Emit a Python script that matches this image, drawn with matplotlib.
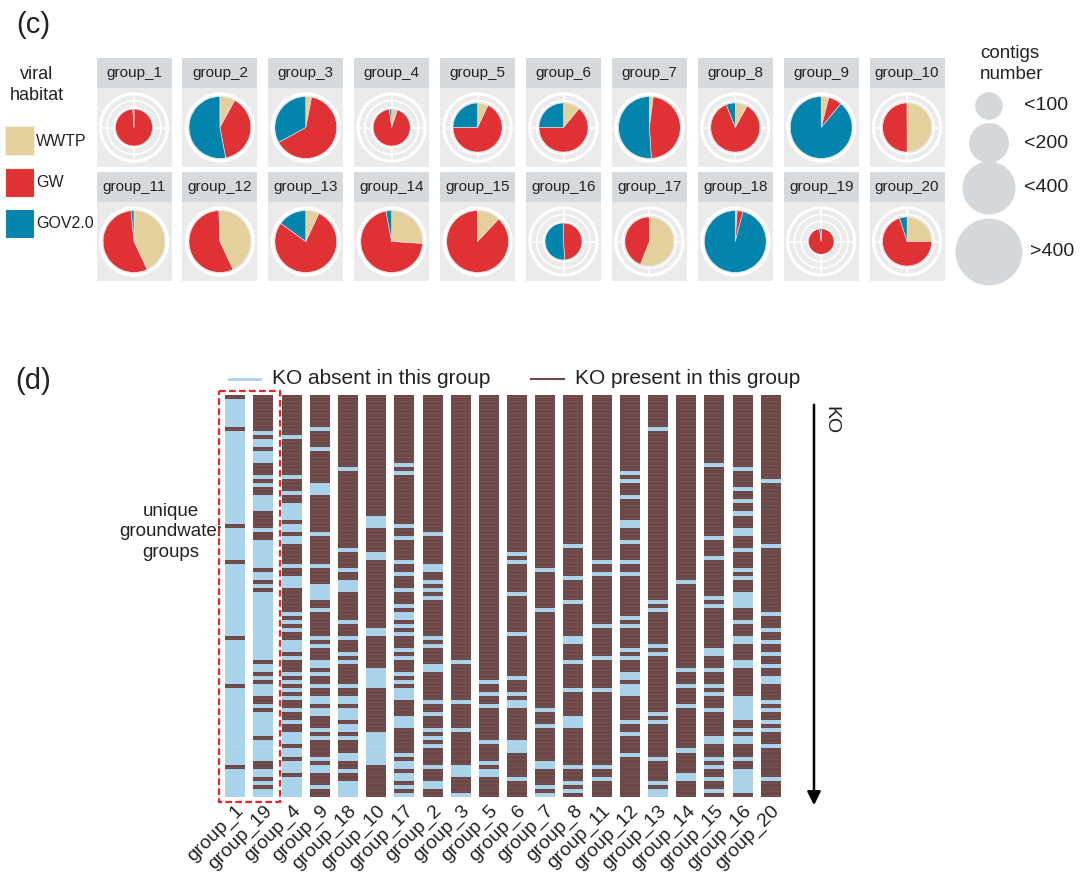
import matplotlib.pyplot as plt
import numpy as np
from matplotlib.patches import Circle, Rectangle
from matplotlib.colors import ListedColormap

plt.rcParams['font.family'] = ['Liberation Sans', 'DejaVu Sans']

W, H = 1080, 884

# ---- panel (c) data: habitat share per group (clockwise from top) ----
habitats = ['WWTP', 'GW', 'GOV2.0']
habitat_colors = ['#e3d09c', '#e03234', '#0384ad']
groups = ['group_%d' % i for i in range(1, 21)]
wwtp = [0.00, 0.08, 0.03, 0.05, 0.07, 0.11, 0.02, 0.08, 0.04, 0.50,
        0.43, 0.43, 0.07, 0.26, 0.12, 0.00, 0.56, 0.01, 0.00, 0.25]
gw = [0.99, 0.39, 0.64, 0.93, 0.68, 0.64, 0.47, 0.86, 0.07, 0.50,
      0.555, 0.565, 0.78, 0.71, 0.88, 0.49, 0.44, 0.03, 0.98, 0.70]
gov = [0.01, 0.53, 0.33, 0.02, 0.25, 0.25, 0.51, 0.06, 0.89, 0.00,
       0.015, 0.005, 0.15, 0.03, 0.00, 0.51, 0.00, 0.96, 0.02, 0.05]
contig_class = ['<200', '>400', '>400', '<200', '<400', '<400', '>400', '<400', '>400', '<400',
                '>400', '>400', '>400', '>400', '>400', '<200', '<400', '>400', '<100', '<400']
size_labels = ['<100', '<200', '<400', '>400']

# ---- panel (d) data: KO absent rows (start, stop) per group, 200 KOs ----
n_ko = 200
ko_order = ['group_1', 'group_19', 'group_4', 'group_9', 'group_18', 'group_10', 'group_17',
            'group_2', 'group_3', 'group_5', 'group_6', 'group_7', 'group_8', 'group_11',
            'group_12', 'group_13', 'group_14', 'group_15', 'group_16', 'group_20']
absent_rows = {
    'group_1': [(2, 16), (18, 64), (66, 82), (84, 120), (122, 144), (146, 184), (186, 200)],
    'group_19': [(18, 20), (22, 26), (28, 34), (40, 42), (44, 46), (50, 58), (66, 68), (72, 86),
                 (88, 92), (94, 96), (98, 132), (134, 138), (140, 142), (144, 150), (154, 156),
                 (158, 170), (172, 182), (186, 190), (192, 194), (196, 200)],
    'group_4': [(20, 22), (40, 42), (48, 50), (54, 62), (64, 68), (70, 74), (84, 86), (90, 96),
                (108, 110), (112, 114), (116, 118), (122, 128), (130, 132), (138, 140), (142, 144),
                (146, 148), (150, 152), (156, 158), (162, 164), (168, 174), (176, 180), (182, 188),
                (190, 200)],
    'group_9': [(16, 18), (26, 28), (44, 50), (68, 70), (84, 86), (94, 102), (106, 108), (120, 122),
                (124, 126), (132, 136), (138, 140), (144, 146), (150, 154), (156, 160), (166, 168),
                (170, 172), (180, 182), (184, 188), (194, 196)],
    'group_18': [(36, 38), (76, 78), (86, 88), (92, 98), (112, 114), (120, 122), (128, 130),
                 (132, 134), (144, 146), (150, 154), (156, 162), (164, 168), (170, 172), (178, 182),
                 (186, 188), (192, 200)],
    'group_10': [(60, 66), (78, 82), (116, 120), (136, 146), (168, 184)],
    'group_17': [(34, 36), (38, 40), (64, 66), (70, 72), (82, 84), (88, 90), (96, 98), (104, 106),
                 (108, 112), (114, 116), (118, 120), (126, 128), (130, 132), (138, 140), (142, 144),
                 (146, 152), (160, 166), (178, 180), (182, 186), (188, 192), (194, 196), (198, 200)],
    'group_2': [(68, 70), (84, 88), (92, 94), (96, 98), (100, 102), (120, 122), (124, 126),
                (134, 138), (152, 154), (158, 160), (166, 168), (170, 172), (174, 176), (184, 186),
                (192, 196)],
    'group_3': [(132, 134), (152, 154), (166, 168), (184, 190), (198, 200)],
    'group_5': [(142, 144), (148, 150), (154, 156), (172, 174), (182, 184), (186, 190)],
    'group_6': [(78, 80), (82, 84), (98, 100), (118, 120), (140, 142), (148, 150), (152, 156),
                (172, 178), (190, 192)],
    'group_7': [(86, 88), (106, 108), (156, 158), (164, 166), (182, 186), (194, 196), (198, 200)],
    'group_8': [(74, 76), (90, 92), (102, 104), (120, 124), (132, 134), (146, 148), (160, 166),
                (184, 186), (192, 194), (196, 198)],
    'group_11': [(82, 84), (88, 90), (114, 116), (130, 132), (146, 148), (184, 186), (190, 192)],
    'group_12': [(38, 40), (42, 44), (50, 52), (62, 66), (72, 74), (82, 84), (88, 90), (110, 112),
                 (114, 116), (126, 128), (130, 132), (138, 142), (144, 150), (162, 164), (168, 170),
                 (178, 180)],
    'group_13': [(16, 18), (102, 104), (106, 108), (124, 126), (128, 130), (158, 160), (162, 164),
                 (180, 182), (192, 194), (196, 200)],
    'group_14': [(92, 94), (136, 138), (144, 146), (154, 156), (176, 178), (188, 192)],
    'group_15': [(34, 36), (70, 72), (80, 82), (100, 102), (104, 106), (126, 130), (136, 138),
                 (144, 146), (148, 150), (156, 158), (170, 174), (180, 182), (184, 186), (190, 192),
                 (196, 198)],
    'group_16': [(36, 38), (46, 48), (52, 54), (58, 60), (66, 70), (76, 78), (86, 88), (90, 92),
                 (98, 106), (112, 114), (120, 124), (132, 136), (150, 162), (166, 168), (170, 174),
                 (180, 182), (186, 198)],
    'group_20': [(42, 44), (74, 76), (108, 110), (116, 118), (122, 124), (128, 130), (134, 136),
                 (140, 144), (152, 154), (156, 158), (162, 164), (166, 168), (174, 176), (190, 192)],
}

# style
size_radius = {'<100': 0.38, '<200': 0.55, '<400': 0.73, '>400': 0.92}
present_col = '#6d4848'
absent_col = '#a9d3ea'
txt_col = '#222222'

fig = plt.figure(figsize=(W / 100, H / 100), dpi=100)


def px_axes(x, y, w, h):
    return fig.add_axes([x / W, 1 - (y + h) / H, w / W, h / H])


ov = px_axes(0, 0, W, H)
ov.set_xlim(0, W)
ov.set_ylim(H, 0)
ov.axis('off')

# ================= panel (c) =================
ov.text(16, 25, '(c)', fontsize=21, va='center', ha='left', color=txt_col)

pw, sh, bh = 75, 30, 79
R = 33.6
for k, g in enumerate(groups):
    row, col = divmod(k, 10)
    x0 = 96.5 + col * 85.9
    ys = 58 if row == 0 else 172
    sax = px_axes(x0, ys, pw, sh)
    sax.set_facecolor('#d7dadc')
    sax.set_xticks([])
    sax.set_yticks([])
    for sp in sax.spines.values():
        sp.set_visible(False)
    sax.text(0.5, 0.5, g, ha='center', va='center', fontsize=11, color=txt_col,
             transform=sax.transAxes)

    bax = px_axes(x0, ys + sh, pw, bh)
    vals = [wwtp[k], gw[k], gov[k]]
    bax.pie(vals, colors=habitat_colors, radius=size_radius[contig_class[k]], startangle=90,
            counterclock=False, wedgeprops=dict(edgecolor='#eeeeee', linewidth=0.4, zorder=3))
    bax.set_aspect('auto')
    bax.set_frame_on(True)
    bax.set_facecolor('#ebebeb')
    for sp in bax.spines.values():
        sp.set_visible(False)
    bax.set_xlim(-pw / 2 / R, pw / 2 / R)
    bax.set_ylim(-bh / 2 / R, bh / 2 / R)
    bax.set_xticks([])
    bax.set_yticks([])
    for r in [0.4, 0.6, 0.8]:
        bax.add_patch(Circle((0, 0), r, fill=False, ec='white', lw=1.1, zorder=1))
    bax.add_patch(Circle((0, 0), 1.0, fill=False, ec='white', lw=2.2, zorder=1))
    bax.plot([0, 0], [-1, 1], color='white', lw=1.1, zorder=1)
    bax.plot([-1, 1], [0, 0], color='white', lw=1.1, zorder=1)

# habitat legend
ov.text(37, 85, 'viral\nhabitat', ha='center', va='center', fontsize=13,
        color=txt_col, linespacing=1.25)
for i, (name, c) in enumerate(zip(habitats, habitat_colors)):
    yt = 126 + i * 41.5
    ov.add_patch(Rectangle((5, yt), 29, 29, fc=c, ec='#f4efe0', lw=0.8))
    ov.text(36, yt + 15, name, ha='left', va='center', fontsize=11.5, color=txt_col)

# size legend
ov.text(980, 64, 'contigs\nnumber', ha='left', va='center', fontsize=13.5,
        color=txt_col, linespacing=1.25)
legend_y = [106, 143, 188, 252]
for lab, yc in zip(size_labels, legend_y):
    ov.add_patch(Circle((989, yc), size_radius[lab] * R * 1.08, fc='#d5d8da', ec='none'))
    ov.text(1024 if lab != '>400' else 1030, yc, lab, ha='left', va='center',
            fontsize=14, color=txt_col)

# ================= panel (d) =================
ov.text(15, 381, '(d)', fontsize=21, va='center', ha='left', color=txt_col)

ov.plot([229, 260], [379, 379], color=absent_col, lw=2)
ov.text(272, 379, 'KO absent in this group', ha='left', va='center', fontsize=15, color=txt_col)
ov.plot([531, 564], [379, 379], color=present_col, lw=1.5)
ov.text(575, 379, 'KO present in this group', ha='left', va='center', fontsize=15, color=txt_col)

ov.text(171, 532, 'unique\ngroundwater\ngroups', ha='center', va='center', fontsize=13.5,
        color=txt_col, linespacing=1.3)

hx0, hx1 = 221.2, 784.8
hy0, hy1 = 395, 796.7
hax = px_axes(hx0, hy0, hx1 - hx0, hy1 - hy0)
hax.set_xlim(-0.5, len(ko_order) - 0.5)
hax.set_ylim(n_ko, 0)

cmap = ListedColormap([present_col, absent_col])
edges = np.arange(n_ko + 1)
for j, g in enumerate(ko_order):
    col = np.zeros(n_ko)
    for a, b in absent_rows[g]:
        col[a:b] = 1
    hax.pcolormesh([j - 0.355, j + 0.355], edges, col[:, None], cmap=cmap, vmin=0, vmax=1,
                   shading='flat', antialiased=False)
    # faint row separators like the original raster
    hax.hlines(edges[1:-1:2], j - 0.355, j + 0.355, color='white', lw=0.4, alpha=0.1)

for sp in hax.spines.values():
    sp.set_visible(False)
hax.set_yticks([])
hax.set_xticks(range(len(ko_order)))
hax.set_xticklabels(ko_order, rotation=45, ha='right', rotation_mode='anchor',
                    fontsize=14, color=txt_col)
hax.tick_params(axis='x', length=0, pad=4)

hax.add_patch(Rectangle((-0.578, -2.0), 2.163, 204.6, fill=False, ec='#e8262a',
                        ls=(0, (3, 1.5)), lw=1.6, clip_on=False))

ov.annotate('', xy=(814, 808), xytext=(814, 402),
            arrowprops=dict(arrowstyle='-|>', color='black', lw=1.8, mutation_scale=20))
ov.text(831, 420, 'KO', rotation=-90, ha='center', va='center', fontsize=14, color=txt_col)

fig.savefig('out.png', dpi=100)
